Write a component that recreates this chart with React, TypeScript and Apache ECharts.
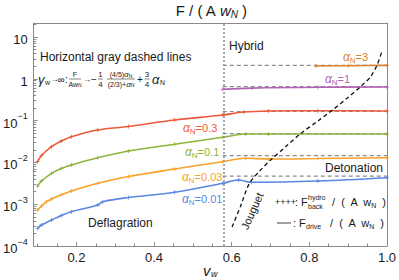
import React, { useEffect, useRef } from 'react';
import * as echarts from 'echarts';

const FONT = '"Liberation Sans", Arial, Helvetica, sans-serif';

// Chapman-Jouguet speed (vertical dotted line)
const vJ = 0.577;

// Deflagration / hybrid / detonation curves: v_w and F/(A w_N)
const v001 = [0.1, 0.11, 0.136, 0.161, 0.187, 0.255, 0.268, 0.334, 0.453, 0.577, 0.618, 0.651, 0.822, 1.0];
const f001 = [2.65e-4, 3.18e-4, 4.18e-4, 5.37e-4, 6.62e-4, 9.57e-4, 1.15e-3, 1.45e-3, 1.93e-3, 3.16e-3, 3.79e-3, 3.34e-3, 3.59e-3, 4.31e-3];

const v003 = [0.1, 0.11, 0.123, 0.136, 0.161, 0.187, 0.255, 0.334, 0.453, 0.577, 0.636, 0.695, 0.822, 1.0];
const f003 = [7.27e-4, 9.05e-4, 1.15e-3, 1.33e-3, 1.68e-3, 2.07e-3, 3.16e-3, 4.6e-3, 6.95e-3, 0.0104, 0.01254, 0.01206, 0.01239, 0.01295];

const v01 = [0.1, 0.11, 0.136, 0.161, 0.187, 0.255, 0.334, 0.453, 0.577, 0.636, 0.695, 1.0];
const f01 = [0.00272, 0.00359, 0.00548, 0.00714, 0.00867, 0.01295, 0.01874, 0.0271, 0.0398, 0.0478, 0.0478, 0.0478];

const v03 = [0.1, 0.11, 0.136, 0.161, 0.187, 0.255, 0.334, 0.453, 0.577, 0.631, 0.695, 0.822, 1.0];
const f03 = [0.0104, 0.0146, 0.0238, 0.0325, 0.0412, 0.0596, 0.0723, 0.103, 0.136, 0.161, 0.17, 0.172, 0.17];

const v1 = [0.577, 0.651, 0.822, 1.0];
const f1 = [0.56, 0.6, 0.63, 0.635];

const v3 = [0.817, 0.9, 1.0];
const f3 = [2.02, 2.06, 2.09];

// Horizontal asymptotes (gray dashed)
const alphaDash = [3, 1, 0.3, 0.1, 0.03, 0.01];
const fDash = [2.09, 0.65, 0.165, 0.049, 0.0145, 0.0047];

// Jouguet curve
const vJg = [0.601, 0.624, 0.645, 0.67, 0.701, 0.739, 0.777, 0.823, 0.861, 0.899, 0.932, 0.958, 0.975, 0.986];
const fJg = [2.86e-4, 9.6e-4, 3.07e-3, 5.96e-3, 0.01153, 0.02366, 0.0485, 0.0995, 0.1825, 0.354, 0.65, 1.13, 2.19, 4.25];

// Axis ticks
const xMajor = [0.2, 0.4, 0.6, 0.8, 1.0];
const xMinor = [0.1, 0.15, 0.25, 0.3, 0.35, 0.45, 0.5, 0.55, 0.65, 0.7, 0.75, 0.85, 0.9, 0.95];
const yMajorExp = [-4, -3, -2, -1, 0, 1];

const COLORS = {
  a001: '#5B87E0',
  a003: '#F9A12B',
  a01: '#8DB53B',
  a03: '#EC5A3C',
  a1: '#B164B5',
  a3: '#D9822B',
};

const PLUS = 'path://M4,0H6V4H10V6H6V10H4V6H0V4H4Z';
const Y_MAX = 1.335;
const FRAME = '#8a8a8a';
const INK = '#1a1a1a';

function App() {
  const ref = useRef<HTMLDivElement>(null);
  useEffect(() => {
    if (!ref.current) return;
    const chart = echarts.init(ref.current, undefined, { renderer: 'svg' });

    const yMinor: number[] = [];
    yMajorExp.forEach((n) => {
      for (let k = 2; k <= 9; k++) {
        const l = Math.log10(k) + n;
        if (l < Y_MAX) yMinor.push(l);
      }
    });

    const curve = (name: string, vs: number[], fs: number[], color: string) => ({
      type: 'line',
      name,
      data: vs.map((v, i) => [v, Math.log10(fs[i])]),
      smooth: 0.35,
      showSymbol: true,
      symbol: PLUS,
      symbolSize: 4,
      lineStyle: { color, width: 1.6 },
      itemStyle: { color },
      z: 3,
      silent: true,
    });

    const dashSeries = alphaDash.map((a, i) => ({
      type: 'line',
      name: 'asym' + a,
      data: [
        [vJ, Math.log10(fDash[i])],
        [1.0, Math.log10(fDash[i])],
      ],
      showSymbol: false,
      lineStyle: { color: '#8c8c8c', width: 1.2, type: [4, 3] },
      z: 2,
      silent: true,
      ...(i === 0
        ? {
            markLine: {
              silent: true,
              symbol: ['none', 'none'],
              label: { show: false },
              lineStyle: { color: '#8c8c8c', type: [2, 2], width: 1.5 },
              data: [{ xAxis: vJ }],
            },
          }
        : {}),
    }));

    const txt = (x: number, y: number, text: string, opts: any = {}) => ({
      type: 'text',
      x,
      y,
      silent: true,
      z: 10,
      style: {
        text,
        fontFamily: FONT,
        fontSize: 12,
        fill: INK,
        align: 'left',
        verticalAlign: 'middle',
        ...opts,
      },
    });
    const bar = (x1: number, x2: number, y: number) => ({
      type: 'line',
      silent: true,
      z: 10,
      shape: { x1, y1: y, x2, y2: y },
      style: { stroke: '#333', lineWidth: 0.6 },
    });

    const alphaLabel = (x: number, y: number, val: string, color: string) =>
      txt(x, y, `{a|α}{n|N}{v|=${val}}`, {
        fill: color,
        rich: {
          a: { fontSize: 12, fontStyle: 'italic', fill: color, fontFamily: FONT, verticalAlign: 'middle', lineHeight: 14 },
          n: { fontSize: 8, fill: color, fontFamily: FONT, verticalAlign: 'bottom', lineHeight: 14 },
          v: { fontSize: 11, fill: color, fontFamily: FONT, verticalAlign: 'middle', lineHeight: 14 },
        },
      });

    const smallRich = {
      a: { fontSize: 8, fontStyle: 'italic', fontFamily: FONT, fill: INK, lineHeight: 7 },
      n: { fontSize: 5, fontFamily: FONT, fill: INK, verticalAlign: 'bottom', lineHeight: 7 },
    };
    const NUM_Y = 74.5;
    const DEN_Y = 84;

    const graphic: any[] = [
      // title
      txt(211, 10, 'F / ( A {i|w}{s|N} )', {
        fontSize: 15,
        align: 'center',
        rich: {
          i: { fontSize: 15, fontStyle: 'italic', fontFamily: FONT, fill: INK, lineHeight: 18, verticalAlign: 'middle' },
          s: { fontSize: 10, fontStyle: 'italic', fontFamily: FONT, fill: INK, lineHeight: 18, verticalAlign: 'bottom' },
        },
      }),
      // x-axis name
      txt(203, 270, 'v', { fontSize: 15, fontStyle: 'italic' }),
      txt(211, 274, 'w', { fontSize: 9, fontStyle: 'italic' }),
      // annotations
      txt(40, 57, 'Horizontal gray dashed lines', { fontSize: 12 }),
      txt(38, 79, 'γ', { fontSize: 13, fontStyle: 'italic' }),
      txt(45, 82.5, 'w', { fontSize: 7, lineHeight: 7 }),
      txt(54.5, 79, '→', { fontSize: 8, align: 'center', lineHeight: 8 }),
      txt(61, 79, '∞', { fontSize: 10, align: 'center', lineHeight: 9 }),
      txt(66.5, 79, ':', { fontSize: 10, align: 'center', lineHeight: 9 }),
      txt(75, NUM_Y, 'F', { fontSize: 7, align: 'center', lineHeight: 7 }),
      bar(69, 81, 79),
      txt(75, DEN_Y, 'Aw{n|N}', { fontSize: 7, align: 'center', lineHeight: 7, rich: smallRich }),
      txt(87, 79, '→', { fontSize: 8, align: 'center', lineHeight: 8 }),
      txt(94, 79, '−', { fontSize: 10, align: 'center', lineHeight: 9 }),
      txt(100.5, NUM_Y, '1', { fontSize: 8, align: 'center', lineHeight: 7 }),
      bar(98, 103, 79),
      txt(100.5, DEN_Y, '4', { fontSize: 8, align: 'center', lineHeight: 7 }),
      txt(121, NUM_Y, '(4/5){a|α}{n|N}', { fontSize: 7, align: 'center', lineHeight: 7, rich: smallRich }),
      bar(107, 135, 79),
      txt(121, DEN_Y, '(2/3)+{a|α}{n|N}', { fontSize: 7, align: 'center', lineHeight: 7, rich: smallRich }),
      txt(140, 79, '+', { fontSize: 10, align: 'center', lineHeight: 9 }),
      txt(147, NUM_Y, '3', { fontSize: 8, align: 'center', lineHeight: 7 }),
      bar(144.5, 149.5, 79),
      txt(147, DEN_Y, '4', { fontSize: 8, align: 'center', lineHeight: 7 }),
      txt(152, 79, 'α', { fontSize: 13, fontStyle: 'italic' }),
      txt(160, 82.5, 'N', { fontSize: 7, lineHeight: 7 }),
      // region labels
      txt(229, 46, 'Hybrid', { fontSize: 12 }),
      txt(325, 168, 'Detonation', { fontSize: 12 }),
      txt(88, 223, 'Deflagration', { fontSize: 12 }),
      {
        type: 'text',
        x: 252,
        y: 211,
        rotation: 1.15,
        silent: true,
        z: 10,
        style: { text: 'Jouguet', fontFamily: FONT, fontSize: 11, fill: INK, align: 'center', verticalAlign: 'middle' },
      },
      // alpha labels
      alphaLabel(343, 57, '3', COLORS.a3),
      alphaLabel(325, 79, '1', COLORS.a1),
      alphaLabel(183, 128, '0.3', COLORS.a03),
      alphaLabel(185, 152, '0.1', COLORS.a01),
      alphaLabel(182, 177, '0.03', COLORS.a003),
      alphaLabel(182, 199, '0.01', COLORS.a001),
      // legend
      txt(275, 202, '++++', { fontSize: 9 }),
      txt(295, 202, ': F', { fontSize: 11 }),
      txt(308, 197.5, 'hydro', { fontSize: 7, lineHeight: 7 }),
      txt(308, 206, 'back', { fontSize: 7, lineHeight: 7 }),
      txt(386, 202, '/  (  A  w{n|N}  )', {
        fontSize: 11,
        align: 'right',
        rich: { n: { fontSize: 7, fontFamily: FONT, fill: INK, verticalAlign: 'bottom', lineHeight: 14 } },
      }),
      {
        type: 'line',
        silent: true,
        z: 10,
        shape: { x1: 277, y1: 223, x2: 291, y2: 223 },
        style: { stroke: '#808080', lineWidth: 1.5 },
      },
      txt(293, 223, ': F', { fontSize: 11 }),
      txt(306, 226.5, 'drive', { fontSize: 7, lineHeight: 7 }),
      txt(384, 223, '/  (  A  w{n|N}  )', {
        fontSize: 11,
        align: 'right',
        rich: { n: { fontSize: 7, fontFamily: FONT, fill: INK, verticalAlign: 'bottom', lineHeight: 14 } },
      }),
    ];

    const labelStyle = { fontFamily: FONT, fontSize: 13, color: INK };

    const option: any = {
      animation: false,
      grid: { left: 32, right: 9, top: 23, bottom: 34, containLabel: false },
      xAxis: [
        {
          type: 'value',
          min: 0.09,
          max: 1.0,
          position: 'bottom',
          axisLine: { show: true, onZero: false, lineStyle: { color: FRAME, width: 1 } },
          axisTick: { show: true, inside: true, length: 4, customValues: xMajor, lineStyle: { color: FRAME } },
          axisLabel: { ...labelStyle, margin: 5, customValues: xMajor, formatter: (v: number) => v.toFixed(1) },
          splitLine: { show: false },
        },
        {
          type: 'value',
          min: 0.09,
          max: 1.0,
          position: 'bottom',
          axisLine: { show: false, onZero: false },
          axisTick: { show: true, inside: true, length: 2.5, customValues: xMinor, lineStyle: { color: FRAME } },
          axisLabel: { show: false },
          splitLine: { show: false },
        },
        {
          type: 'value',
          min: 0.09,
          max: 1.0,
          position: 'top',
          axisLine: { show: true, onZero: false, lineStyle: { color: FRAME, width: 1 } },
          axisTick: { show: false },
          axisLabel: { show: false },
          splitLine: { show: false },
        },
      ],
      yAxis: [
        {
          type: 'value',
          min: -4,
          max: Y_MAX,
          position: 'left',
          axisLine: { show: true, onZero: false, lineStyle: { color: FRAME, width: 1 } },
          axisTick: { show: true, inside: true, length: 4, customValues: yMajorExp, lineStyle: { color: FRAME } },
          axisLabel: {
            ...labelStyle,
            margin: 6,
            customValues: yMajorExp,
            formatter: (v: number) => {
              const n = Math.round(v);
              if (n === 1) return '{m|10}';
              if (n === 0) return '{m|1}';
              return `{m|10}{s|−${Math.abs(n)}}`;
            },
            rich: {
              m: { fontFamily: FONT, fontSize: 13, color: INK, lineHeight: 18, verticalAlign: 'bottom' },
              s: { fontFamily: FONT, fontSize: 9, color: INK, lineHeight: 18, verticalAlign: 'top' },
            },
          },
          splitLine: { show: false },
        },
        {
          type: 'value',
          min: -4,
          max: Y_MAX,
          position: 'left',
          axisLine: { show: false, onZero: false },
          axisTick: { show: true, inside: true, length: 2.5, customValues: yMinor, lineStyle: { color: FRAME } },
          axisLabel: { show: false },
          splitLine: { show: false },
        },
        {
          type: 'value',
          min: -4,
          max: Y_MAX,
          position: 'right',
          axisLine: { show: true, onZero: false, lineStyle: { color: FRAME, width: 1 } },
          axisTick: { show: false },
          axisLabel: { show: false },
          splitLine: { show: false },
        },
      ],
      series: [
        ...dashSeries,
        curve('α=0.01', v001, f001, COLORS.a001),
        curve('α=0.03', v003, f003, COLORS.a003),
        curve('α=0.1', v01, f01, COLORS.a01),
        curve('α=0.3', v03, f03, COLORS.a03),
        curve('α=1', v1, f1, COLORS.a1),
        curve('α=3', v3, f3, COLORS.a3),
        {
          type: 'line',
          name: 'Jouguet',
          data: vJg.map((v, i) => [v, Math.log10(fJg[i])]),
          smooth: 0.3,
          showSymbol: false,
          lineStyle: { color: '#111', width: 1.3, type: [4, 3] },
          z: 5,
          silent: true,
        },
      ],
      graphic,
    };

    chart.setOption(option);
    return () => chart.dispose();
  }, []);

  return (
    <div
      ref={ref}
      style={{ position: 'fixed', left: 0, top: 0, width: 399, height: 280, background: '#fff' }}
    />
  );
}

export default App;
